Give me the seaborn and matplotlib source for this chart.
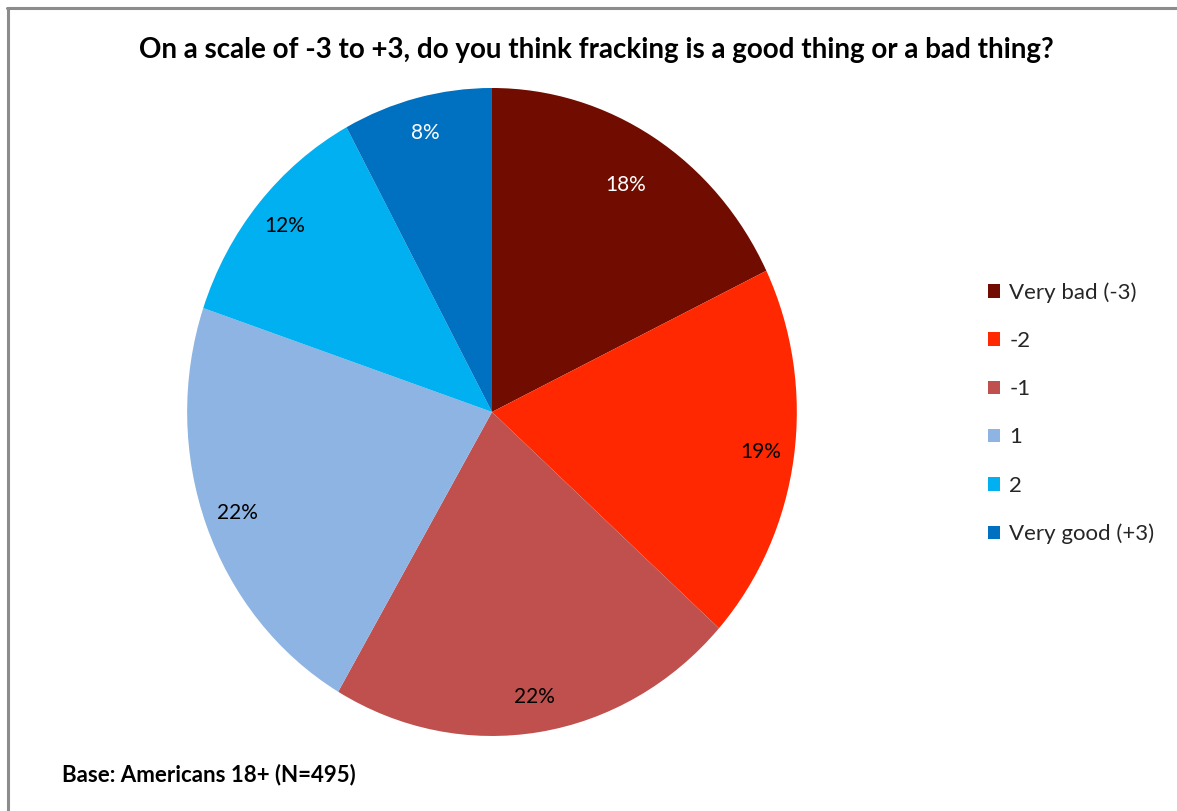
import matplotlib
matplotlib.use("Agg")
import matplotlib.pyplot as plt
from matplotlib.lines import Line2D
import seaborn as sns

# survey answers, clockwise from 12 o'clock
categories = ["Very bad (-3)", "-2", "-1", "1", "2", "Very good (+3)"]
shares = [18, 19, 22, 22, 12, 8]
colors = ["#700C00", "#FF2800", "#C0504D", "#8DB4E2", "#00B0F0", "#0070C0"]
label_colors = ["white", "black", "black", "black", "black", "white"]

title = "On a scale of -3 to +3, do you think fracking is a good thing or a bad thing?"
base_note = "Base: Americans 18+ (N=495)"

sns.set_theme(style="white")
plt.rcParams["font.family"] = ["Lato", "DejaVu Sans"]

fig = plt.figure(figsize=(11.77, 8.11), dpi=100)
ax = fig.add_axes([0.159, 0.0925, 0.518, 0.799])

wedges, texts, autotexts = ax.pie(
    shares, colors=colors, startangle=90, counterclock=False,
    autopct=lambda p: "", pctdistance=0.89,
    wedgeprops=dict(linewidth=0),
)
for t, v, c in zip(autotexts, shares, label_colors):
    t.set_text(f"{v}%")
    t.set_color(c)
    t.set_fontsize(15)

# Excel's best-fit put the first label a bit further in
x0, y0 = autotexts[0].get_position()
autotexts[0].set_position((x0 * 0.93, y0 * 0.93))

ax.set_aspect("auto")
ax.set_xlim(-1, 1)
ax.set_ylim(-1, 1)

fig.text(0.507, 0.938, title, ha="center", va="center", fontsize=20, fontweight="bold", color="black")
fig.text(0.053, 0.045, base_note, ha="left", va="center", fontsize=16, fontweight="bold", color="black")

fig.legend(wedges, categories, loc="upper left", bbox_to_anchor=(0.832, 0.663),
           frameon=False, fontsize=16, handlelength=0.55, handleheight=0.55,
           handletextpad=0.4, labelspacing=1.27, borderaxespad=0)

# grey frame along top and left edge
fig.add_artist(Line2D([0.006, 1.0], [0.990, 0.990], color="#8C8C8C", linewidth=2.2, transform=fig.transFigure))
fig.add_artist(Line2D([0.0065, 0.0065], [0.0, 0.990], color="#8C8C8C", linewidth=2.2, transform=fig.transFigure))

fig.savefig("out.png", dpi=100, facecolor="white")
